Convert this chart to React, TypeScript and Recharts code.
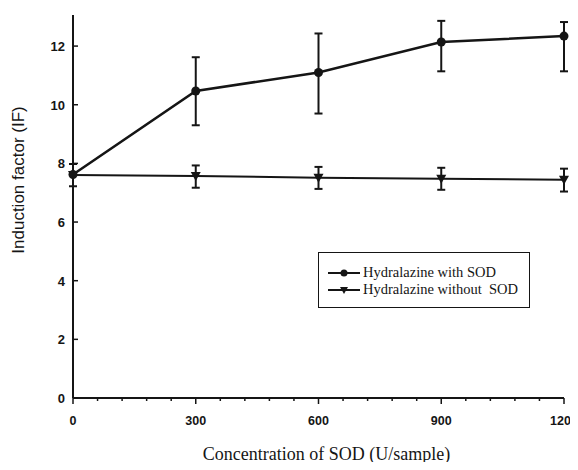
import React from 'react';
import { LineChart, Line, XAxis, YAxis, ErrorBar, Legend, Label } from 'recharts';

// SOD concentration (U/sample)
const concentrations = [0, 300, 600, 900, 1200];
// induction factor with / without SOD
const withSod = [7.62, 10.47, 11.1, 12.14, 12.34];
const withSodErr = [[0, 0], [1.17, 1.15], [1.4, 1.33], [1.0, 0.72], [1.2, 0.48]];
const withoutSod = [7.6, 7.57, 7.51, 7.48, 7.44];
const withoutSodErr = [[0.38, 0.38], [0.4, 0.36], [0.38, 0.37], [0.38, 0.37], [0.4, 0.38]];

const xTicks = [0, 60, 120, 180, 240, 300, 360, 420, 480, 540, 600, 660, 720, 780, 840, 900, 960, 1020, 1080, 1140, 1200];
const yTicks = [0, 2, 4, 6, 8, 10, 12];

const seriesNames = ['Hydralazine with SOD', 'Hydralazine without  SOD'];

const data = concentrations.map((c, i) => ({
  conc: c,
  withSod: withSod[i],
  withSodErr: withSodErr[i],
  withoutSod: withoutSod[i],
  withoutSodErr: withoutSodErr[i],
}));

const INK = '#151515';
const tickFont = '"Liberation Sans", Arial, sans-serif';
const serifFont = '"Liberation Serif", "Times New Roman", serif';

const XTick = (props: any) => {
  const { x, y, payload } = props;
  const major = payload.value % 300 === 0;
  return (
    <g>
      <line x1={x} y1={y} x2={x} y2={y + (major ? 6 : 3)} stroke={INK} strokeWidth={1.5} />
      {major ? (
        <text x={x} y={y + 27} textAnchor="middle" fontFamily={tickFont} fontWeight="bold" fontSize={12.5} fill={INK}>
          {payload.value}
        </text>
      ) : null}
    </g>
  );
};

const YTick = (props: any) => {
  const { x, y, payload } = props;
  return (
    <g>
      <line x1={x} y1={y} x2={x + 5} y2={y} stroke={INK} strokeWidth={1.5} />
      <text x={x - 8} y={y + 5} textAnchor="end" fontFamily={tickFont} fontWeight="bold" fontSize={13} fill={INK}>
        {payload.value}
      </text>
    </g>
  );
};

const triangleDot = (p: any) => {
  const { cx, cy, index } = p;
  return <path key={`tri-${index}`} d={`M${cx - 5},${cy - 4}L${cx + 5},${cy - 4}L${cx},${cy + 5}Z`} fill={INK} />;
};

const circleDot = (p: any) => {
  const { cx, cy, index } = p;
  return <circle key={`dot-${index}`} cx={cx} cy={cy} r={4.5} fill={INK} />;
};

const LegendBox = () => (
  <div
    style={{
      border: `1.5px solid ${INK}`,
      width: 212,
      height: 56,
      boxSizing: 'border-box',
      padding: '11px 0 0 8px',
      fontFamily: serifFont,
      fontSize: 14.5,
      color: INK,
      lineHeight: '17px',
      whiteSpace: 'pre',
    }}
  >
    {seriesNames.map((name, i) => (
      <div key={name} style={{ display: 'flex', alignItems: 'center' }}>
        <svg width={34} height={12}>
          <line x1={1} y1={6} x2={33} y2={6} stroke={INK} strokeWidth={2} />
          {i === 0 ? <circle cx={17} cy={6} r={3.5} fill={INK} /> : <path d="M13,3L21,3L17,10Z" fill={INK} />}
        </svg>
        <span style={{ marginLeft: 2 }}>{name}</span>
      </div>
    ))}
  </div>
);

export default function App() {
  return (
    <div style={{ margin: -8, width: 578, height: 470, background: '#fff' }}>
      <LineChart width={578} height={470} data={data} margin={{ top: 15, right: 14, left: 33, bottom: 42 }}>
        <XAxis
          dataKey="conc"
          type="number"
          domain={[0, 1200]}
          ticks={xTicks}
          interval={0}
          tickSize={0}
          tickMargin={0}
          tickLine={false}
          tick={<XTick />}
          height={30}
          axisLine={{ stroke: INK, strokeWidth: 2 }}
        >
          <Label
            content={(props: any) => {
              const vb = props.viewBox;
              return (
                <text x={vb.x + vb.width / 2 + 8} y={vb.y + 62} textAnchor="middle" fontFamily={serifFont} fontSize={18} fill={INK}>
                  Concentration of SOD (U/sample)
                </text>
              );
            }}
          />
        </XAxis>
        <YAxis
          type="number"
          domain={[0, 13.06]}
          ticks={yTicks}
          interval={0}
          width={40}
          tickSize={0}
          tickMargin={0}
          tickLine={false}
          tick={<YTick />}
          axisLine={{ stroke: INK, strokeWidth: 2 }}
        >
          <Label
            content={() => (
              <text
                x={24}
                y={180}
                transform="rotate(-90 24 180)"
                textAnchor="middle"
                fontFamily={tickFont}
                fontSize={17}
                fill={INK}
              >
                Induction factor (IF)
              </text>
            )}
          />
        </YAxis>
        <Legend
          layout="horizontal"
          verticalAlign="middle"
          align="center"
          wrapperStyle={{ left: 318, top: 252, width: 'auto' }}
          content={<LegendBox />}
        />
        <Line
          dataKey="withoutSod"
          stroke={INK}
          strokeWidth={2}
          dot={triangleDot}
          isAnimationActive={false}
        >
          <ErrorBar dataKey="withoutSodErr" direction="y" width={4} stroke={INK} strokeWidth={2} />
        </Line>
        <Line
          dataKey="withSod"
          stroke={INK}
          strokeWidth={2.5}
          dot={circleDot}
          isAnimationActive={false}
        >
          <ErrorBar dataKey="withSodErr" direction="y" width={4} stroke={INK} strokeWidth={2} />
        </Line>
      </LineChart>
    </div>
  );
}
